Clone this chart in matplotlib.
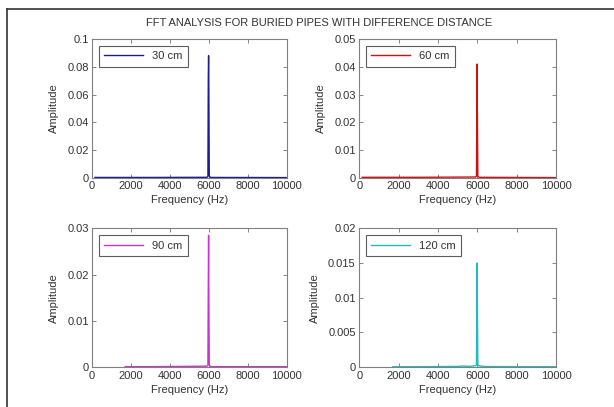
import matplotlib
matplotlib.use('Agg')
import matplotlib.pyplot as plt
from matplotlib.lines import Line2D

plt.rcParams['font.family'] = ['Liberation Sans', 'DejaVu Sans']

# Spectrum samples for each burial depth
freq_30 = [150, 3000, 5900, 5950, 5970, 5985, 5995, 6020, 6040, 6100, 10000]
amp_30 = [0.0003, 0.0003, 0.0004, 0.001, 0.072, 0.088, 0.072, 0.0015, 0.0008, 0.0003, 0.0002]

freq_60 = [150, 3000, 5900, 5950, 5970, 5985, 5995, 6020, 6040, 6100, 10000]
amp_60 = [0.0002, 0.0002, 0.0003, 0.0006, 0.026, 0.041, 0.026, 0.0008, 0.0004, 0.0002, 0.0001]

freq_90 = [1700, 3000, 5900, 5950, 5970, 5985, 5995, 6020, 6040, 6100, 10000]
amp_90 = [0.0001, 0.0001, 0.0002, 0.0004, 0.018, 0.0285, 0.018, 0.0005, 0.0003, 0.0001, 0.0001]

freq_120 = [1700, 3000, 5000, 5300, 5600, 5900, 5950, 5970, 5985, 5995, 6020, 6040, 6300, 6600, 10000]
amp_120 = [0.00005, 0.00006, 0.0001, 0.00015, 0.0001, 0.0002, 0.0003, 0.0095, 0.015, 0.0095, 0.0004, 0.0002, 0.0001, 0.00008, 0.00005]

labels = ['30 cm', '60 cm', '90 cm', '120 cm']
colors = ['#1c1c8e', '#cc1111', '#cc33cc', '#22bbbb']
ylims = [0.1, 0.05, 0.03, 0.02]
yticks = [[0, 0.02, 0.04, 0.06, 0.08, 0.1],
          [0, 0.01, 0.02, 0.03, 0.04, 0.05],
          [0, 0.01, 0.02, 0.03],
          [0, 0.005, 0.01, 0.015, 0.02]]
xticks = [0, 2000, 4000, 6000, 8000, 10000]
series = [(freq_30, amp_30), (freq_60, amp_60), (freq_90, amp_90), (freq_120, amp_120)]

fig = plt.figure(figsize=(6.14, 4.07), dpi=100)
fig.patch.set_facecolor('white')

positions = [[0.150, 0.563, 0.317, 0.341],
             [0.585, 0.563, 0.321, 0.341],
             [0.150, 0.098, 0.317, 0.341],
             [0.585, 0.098, 0.321, 0.341]]

for i in range(4):
    ax = fig.add_axes(positions[i])
    f, a = series[i]
    ax.plot(f, a, color=colors[i], lw=1.0, label=labels[i])
    ax.set_xlim(0, 10000)
    ax.set_ylim(0, ylims[i])
    ax.set_xticks(xticks)
    ax.set_yticks(yticks[i])
    ax.set_yticklabels(['%g' % v for v in yticks[i]])
    ax.tick_params(direction='in', length=3, width=0.6, top=True, right=True,
                   labelsize=8, colors='#707070', labelcolor='#333333', pad=2.5)
    for s in ax.spines.values():
        s.set_color('#808080')
        s.set_linewidth(0.8)
    ax.set_xlabel('Frequency (Hz)', fontsize=8, color='#333333', labelpad=3)
    ax.set_ylabel('Amplitude', fontsize=8, color='#333333', labelpad=6)
    leg = ax.legend(loc='upper left', fontsize=8, frameon=True, fancybox=False,
                    handlelength=3.5, borderpad=0.5, borderaxespad=0.6)
    leg.get_frame().set_edgecolor('#333333')
    leg.get_frame().set_linewidth(0.8)
    for t in leg.get_texts():
        t.set_color('#333333')

fig.text(0.52, 0.943, 'FFT ANALYSIS FOR BURIED PIPES WITH DIFFERENCE DISTANCE',
         ha='center', va='center', fontsize=8, color='#333333')

# frame lines on the left and top edge
fig.add_artist(Line2D([0.012, 0.012], [0.0, 0.978], color='#333333', lw=1.2,
                      transform=fig.transFigure))
fig.add_artist(Line2D([0.012, 1.0], [0.978, 0.978], color='#333333', lw=1.2,
                      transform=fig.transFigure))

fig.savefig('out.png', dpi=100)
